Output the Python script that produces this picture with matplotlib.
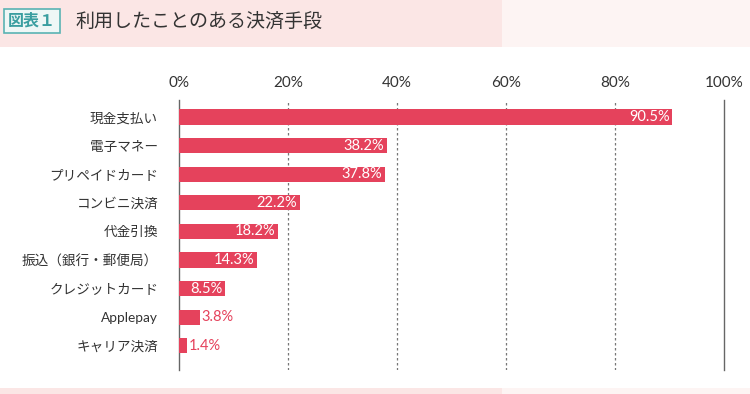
import matplotlib
matplotlib.use("Agg")
import matplotlib.pyplot as plt
from matplotlib.patches import Rectangle

plt.rcParams["font.family"] = ["Noto Sans CJK JP", "DejaVu Sans"]
num_font = ["Lato", "Noto Sans CJK JP"]

categories = ["現金支払い", "電子マネー", "プリペイドカード", "コンビニ決済", "代金引換",
              "振込（銀行・郵便局）", "クレジットカード", "Applepay", "キャリア決済"]
values = [90.5, 38.2, 37.8, 22.2, 18.2, 14.3, 8.5, 3.8, 1.4]
ticks = [0, 20, 40, 60, 80, 100]
title = "利用したことのある決済手段"
fig_label = "図表１"

W, H = 750, 394
bar_color = "#e5425c"
text_color = "#333333"

fig = plt.figure(figsize=(W/100, H/100), dpi=100)
fig.patch.set_facecolor("white")

# header and footer bands
fig.patches.append(Rectangle((0, 1 - 47/H), 502/W, 47/H, transform=fig.transFigure,
                             facecolor="#fbe6e5", edgecolor="none", zorder=0))
fig.patches.append(Rectangle((502/W, 1 - 47/H), 248/W, 47/H, transform=fig.transFigure,
                             facecolor="#fdf4f3", edgecolor="none", zorder=0))
fig.patches.append(Rectangle((0, 0), 502/W, 6/H, transform=fig.transFigure,
                             facecolor="#fbe6e5", edgecolor="none", zorder=0))
fig.patches.append(Rectangle((502/W, 0), 248/W, 6/H, transform=fig.transFigure,
                             facecolor="#fdf4f3", edgecolor="none", zorder=0))

fig.text(32/W, 1 - 21/H, fig_label, color="#3a9ea0", fontsize=11.5, fontweight="bold",
         ha="center", va="center",
         bbox=dict(boxstyle="square,pad=0.22", facecolor="#eef7f6", edgecolor="#5ab3b3", linewidth=1.2))
fig.text(75/W, 1 - 21/H, title, color=text_color, fontsize=13.7, ha="left", va="center")

# plot area in pixel coordinates
x0, x1 = 179, 724
y_top, y_bot = 100, 370
ax = fig.add_axes([x0/W, 1 - y_bot/H, (x1 - x0)/W, (y_bot - y_top)/H])
ax.set_facecolor("none")

row0, step = 117, 28.6
ax.set_xlim(0, 100)
ax.set_ylim((y_bot - row0)/step, -(row0 - y_top)/step)

pos = list(range(len(categories)))
ax.barh(pos, values, height=0.53, color=bar_color, zorder=3)

for t in ticks:
    if t in (0, 100):
        ax.axvline(t, color="#666666", linewidth=1.0, zorder=2, clip_on=False)
    else:
        ax.axvline(t, color="#777777", linewidth=0.9, linestyle=(0, (2, 2)), zorder=2)

for p, v in zip(pos, values):
    if v > 6:
        ax.text(v - 0.5, p, "%.1f%%" % v, color="white", fontsize=10.5, family=num_font,
                ha="right", va="center", zorder=4)
    else:
        ax.text(v + 0.4, p, "%.1f%%" % v, color=bar_color, fontsize=10.5, family=num_font,
                ha="left", va="center", zorder=4)

ax.set_xticks(ticks)
ax.set_xticklabels(["%d%%" % t for t in ticks], color=text_color, fontsize=11, family=num_font)
ax.xaxis.tick_top()
ax.tick_params(axis="x", length=0, pad=7)
ax.set_yticks(pos)
ax.set_yticklabels(categories, color=text_color, fontsize=9.8, family=num_font)
ax.tick_params(axis="y", length=0, pad=15)
for s in ax.spines.values():
    s.set_visible(False)

fig.savefig("out.png", dpi=100)
